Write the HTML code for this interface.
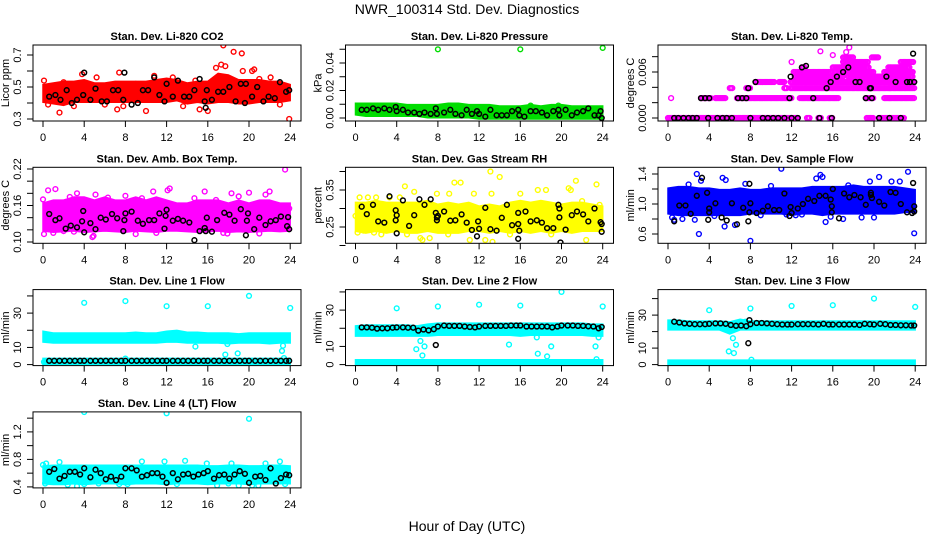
<!DOCTYPE html>
<html><head><meta charset="utf-8"><title>NWR_100314 Std. Dev. Diagnostics</title>
<style>
html,body{margin:0;padding:0;background:#fff;}
svg{display:block;font-family:"Liberation Sans",sans-serif;}
</style></head>
<body>
<svg id="chart" width="936" height="540" viewBox="0 0 936 540" xmlns="http://www.w3.org/2000/svg">
<rect width="936" height="540" fill="#fff"/>
<text x="467" y="14" font-size="14" text-anchor="middle">NWR_100314  Std. Dev. Diagnostics</text>
<text x="467" y="531" font-size="14" text-anchor="middle">Hour of Day (UTC)</text>
<g id="panels"></g>
</svg>
<script>
// ---------- shared ----------
const bandHours=[0,1,2,3,4,5,6,7,8,9,10,11,12,13,14,15,16,17,18,19,20,21,22,23,24];
const xTicks=[0,4,8,12,16,20,24];
const blkHoursRow3=[0.6,1.1,1.6,2.1,2.6,3.1,3.6,4.0,4.6,5.1,5.6,6.1,6.6,7.1,7.6,8.0,8.6,9.1,9.6,10.1,10.6,11.1,11.6,12.0,12.6,13.1,13.6,14.1,14.6,15.1,15.6,16.0,16.6,17.1,17.6,18.1,18.6,19.1,19.6,20.0,20.6,21.1,21.6,22.1,22.6,23.1,23.6,23.9];

// ---------- panel 1: CO2 ----------
const co2Lo=[0.42,0.41,0.40,0.42,0.42,0.42,0.42,0.42,0.42,0.42,0.42,0.42,0.42,0.43,0.41,0.42,0.41,0.42,0.42,0.41,0.41,0.42,0.42,0.42,0.43];
const co2Hi=[0.50,0.51,0.52,0.52,0.53,0.51,0.51,0.52,0.52,0.52,0.52,0.53,0.54,0.53,0.51,0.52,0.52,0.57,0.56,0.53,0.53,0.53,0.52,0.52,0.50];
const co2PtX=[0.1,1.6,3.8,5.2,7.2,7.4,7.8,10.0,10.8,15.2,16.0,16.8,17.3,17.5,17.7,18.5,19.3,19.4,20.3,20.5,22.1,23.9,12.6,9.0,14.8,3.0,0.5,2.0,6.0,13.6,21.0,23.0];
const co2PtY=[0.54,0.34,0.58,0.56,0.36,0.59,0.38,0.35,0.57,0.36,0.35,0.62,0.64,0.76,0.63,0.72,0.71,0.60,0.60,0.61,0.56,0.30,0.56,0.52,0.54,0.38,0.39,0.53,0.39,0.38,0.55,0.39];
const co2BlkX=[0.6,1.2,1.7,2.3,2.8,3.3,3.9,4.0,4.6,5.1,5.7,6.2,6.8,7.3,7.8,7.9,8.6,9.2,9.7,10.2,10.8,11.3,11.8,12.0,12.6,13.1,13.7,14.2,14.7,15.2,15.7,15.8,15.9,16.4,17.0,17.5,18.1,18.7,19.2,19.6,19.7,20.3,20.8,21.4,21.9,22.5,23.0,23.6,23.9];
const co2BlkY=[0.44,0.45,0.42,0.48,0.40,0.42,0.45,0.59,0.42,0.49,0.41,0.41,0.48,0.48,0.42,0.59,0.39,0.40,0.48,0.48,0.56,0.45,0.41,0.52,0.44,0.54,0.44,0.44,0.48,0.55,0.41,0.37,0.48,0.42,0.47,0.47,0.50,0.41,0.52,0.40,0.52,0.44,0.50,0.41,0.44,0.43,0.53,0.47,0.48];
const co2Ticks=[0.3,0.4,0.5,0.6,0.7];
const co2Labels=["0.3","","0.5","","0.7"];

// ---------- panel 2: pressure ----------
const prLo=[0.004,0.003,0.003,0.003,0.003,0.003,0.003,0.002,0.002,0.002,0.002,0.002,0.001,0.001,0.001,0.001,0.001,0.001,0.001,0.001,0.001,0.001,0.001,0.001,0.001];
const prHi=[0.009,0.009,0.009,0.009,0.009,0.008,0.008,0.008,0.008,0.009,0.009,0.008,0.008,0.008,0.007,0.007,0.007,0.008,0.007,0.008,0.008,0.007,0.007,0.007,0.007];
const prPtX=[8,16,24,17,19.7];
const prPtY=[0.050,0.050,0.051,0.009,0.009];
const prBlkX=[0.6,1.1,1.7,2.2,2.8,3.3,3.9,4.0,4.6,5.1,5.7,6.2,6.7,7.3,7.8,7.9,8.6,9.2,9.7,10.3,10.8,11.3,11.8,12.0,12.6,13.1,13.7,14.2,14.7,15.2,15.8,15.9,16.4,17.0,17.5,18.1,18.6,19.2,19.7,19.8,20.4,21.0,21.5,22.1,22.6,23.2,23.6,23.8,23.9];
const prBlkY=[0.006,0.006,0.007,0.006,0.007,0.006,0.008,0.005,0.006,0.004,0.004,0.003,0.004,0.003,0.007,0.003,0.004,0.006,0.003,0.002,0.006,0.003,0.005,0.003,0.001,0.006,0.002,0.002,0.002,0.005,0.006,0.002,0.001,0.005,0.005,0.004,0.002,0.005,0.006,0.002,0.006,0.002,0.004,0.005,0.007,0.002,0.002,0.005,0.000];
const prTicks=[0,0.01,0.02,0.03,0.04,0.05];
const prLabels=["0.00","","0.02","","0.04",""];

// ---------- panel 3: Li-820 temp (discrete levels as runs) ----------
const tmRunLevel=[0,0,0,0,0,0,0.0026,0.0026,0.0026,0.0026,0.0026,0.0026,0.0026,0.0039,0.0039,0.0039,0.0039,0.0047,0.0047,0.0047,0.0054,0.0054,0.006,0.006,0.006,0.0066,0.0066,0.0066,0.0073,0.0073,0.0073,0.0079,0.0079];
const tmRunStart=[0,13.5,14.6,15.7,19.3,20.5,0.3,3.2,4.6,6.7,12.8,19.2,21.0,6.0,7.6,11.3,11.9,8.5,10.8,11.9,12.3,17.5,12.2,16.2,21.0,13.0,16.0,21.4,12.0,17.0,22.6,17.0,19.8];
const tmRunEnd=[12.7,13.8,14.9,16.0,20.0,23.0,0.4,4.2,5.6,12.0,16.6,20.0,23.9,6.3,8.0,11.6,24.0,10.3,11.3,24.0,17.0,23.8,15.8,20.0,23.8,13.3,19.5,23.5,12.1,19.5,23.8,18.0,20.4];
const tmPtX=[14.8,17.3,17.6,16.0];
const tmPtY=[0.0087,0.0086,0.0092,0.0082];
const tmBlkX=[0.6,1.0,1.5,2.0,2.4,2.8,3.2,3.6,3.9,4.0,4.8,5.3,5.7,6.2,6.8,7.2,7.6,7.8,8.0,8.5,9.2,9.7,10.2,10.7,11.3,11.8,11.9,12.0,12.6,13.0,13.4,14.1,14.7,15.4,15.8,15.9,16.4,17.0,17.5,18.2,18.6,19.2,19.6,19.7,19.8,20.5,21.2,21.5,22.1,22.6,23.2,23.5,23.8,23.9];
const tmBlkY=[0,0,0,0,0,0,0.0026,0.0026,0,0.0026,0,0,0,0,0.0026,0.0026,0.0026,0.0039,0,0.0047,0,0,0,0,0,0.0026,0.0054,0,0,0.0066,0.0068,0.0026,0,0.0039,0.0047,0,0.0054,0.0060,0.0066,0.0047,0.0047,0.0026,0.0039,0.0039,0.0026,0,0.0054,0,0.0047,0,0.0047,0.0047,0.0084,0.0047];
const tmTicks=[0,0.002,0.004,0.006,0.008];
const tmLabels=["0.000","","","0.006",""];

// ---------- panel 4: amb box temp ----------
const abLo=[0.122,0.12,0.121,0.122,0.12,0.121,0.122,0.121,0.12,0.122,0.121,0.12,0.122,0.122,0.121,0.12,0.121,0.122,0.12,0.121,0.12,0.121,0.122,0.121,0.122];
const abHi=[0.16,0.165,0.165,0.17,0.17,0.165,0.17,0.165,0.165,0.17,0.165,0.17,0.165,0.16,0.16,0.165,0.165,0.165,0.16,0.165,0.16,0.165,0.165,0.16,0.16];
const abPtX=[0.1,0.5,1.2,2.0,3.3,4.8,4.9,5.1,7.5,8.0,9.6,10.7,11.0,12.3,12.1,15.7,16.8,17.9,18.3,19.0,20.0,21.6,22.0,23.5,23.9,0.0,14.7,2.6,6.3,13.2,1.0,3.0,9.0,17.5,21.0];
const abPtY=[0.113,0.185,0.187,0.118,0.18,0.108,0.11,0.178,0.125,0.176,0.172,0.183,0.115,0.188,0.185,0.183,0.169,0.114,0.18,0.175,0.181,0.178,0.183,0.219,0.155,0.17,0.172,0.174,0.173,0.16,0.115,0.117,0.113,0.115,0.114];
const abBlkX=[0.6,1.2,1.6,2.2,2.7,3.3,3.8,3.9,4.0,4.6,5.1,5.6,6.1,6.7,7.2,7.8,7.9,8.0,8.6,9.2,9.7,10.3,10.8,11.3,11.8,11.9,12.0,12.6,13.1,13.6,14.2,14.7,15.2,15.7,15.8,15.9,16.4,16.9,17.6,18.1,18.6,19.2,19.7,19.8,19.9,20.5,21.0,21.6,22.1,22.6,23.1,23.7,23.8,23.9];
const abBlkY=[0.146,0.136,0.139,0.122,0.127,0.124,0.134,0.151,0.116,0.131,0.121,0.140,0.137,0.146,0.139,0.118,0.136,0.147,0.150,0.135,0.130,0.136,0.136,0.147,0.122,0.143,0.153,0.135,0.138,0.135,0.132,0.103,0.118,0.123,0.118,0.140,0.117,0.136,0.148,0.145,0.135,0.154,0.111,0.135,0.147,0.121,0.140,0.128,0.134,0.136,0.142,0.126,0.141,0.121];
const abTicks=[0.10,0.12,0.14,0.16,0.18,0.20,0.22];
const abLabels=["0.10","","","0.16","","","0.22"];

// ---------- panel 5: gas stream RH ----------
const rhLo=[0.245,0.24,0.245,0.24,0.245,0.24,0.24,0.245,0.24,0.24,0.24,0.245,0.245,0.24,0.245,0.24,0.245,0.24,0.245,0.24,0.245,0.24,0.245,0.245,0.245];
const rhHi=[0.31,0.31,0.315,0.31,0.31,0.31,0.31,0.315,0.305,0.31,0.305,0.31,0.30,0.305,0.30,0.31,0.315,0.31,0.315,0.31,0.305,0.31,0.31,0.305,0.30];
const rhPtX=[0.4,0.0,0.2,0.8,1.8,2.5,3.3,4.8,5.7,6.3,6.5,7.2,7.9,9.1,9.6,10.2,11.1,12.6,13.1,13.3,14.0,13.2,17.7,18.5,20.7,20.9,21.4,22.4,23.4,23.7,4.3,16.0,2.0,5.0,9.0,11.5,15.0,19.0,22.0,1.2];
const rhPtY=[0.33,0.28,0.235,0.24,0.235,0.23,0.33,0.36,0.345,0.22,0.215,0.22,0.34,0.34,0.37,0.37,0.215,0.215,0.40,0.21,0.385,0.34,0.35,0.35,0.355,0.35,0.375,0.215,0.365,0.31,0.33,0.34,0.33,0.23,0.23,0.34,0.23,0.23,0.32,0.33];
const rhBlkX=[0.6,1.1,1.7,2.2,2.8,3.3,3.9,3.9,4.0,4.0,4.6,5.2,5.7,6.2,6.7,7.3,7.8,7.9,7.9,8.0,8.6,9.2,9.7,10.3,10.8,11.3,11.8,11.9,12.0,12.6,13.1,13.7,14.2,14.7,15.2,15.8,15.8,15.9,15.8,16.5,17.0,17.6,18.1,18.6,19.2,19.7,19.8,19.8,19.9,20.4,21.0,21.5,22.1,22.6,23.2,23.8,23.9,23.9];
const rhBlkY=[0.305,0.285,0.31,0.265,0.262,0.333,0.295,0.268,0.233,0.282,0.322,0.253,0.282,0.325,0.31,0.325,0.288,0.276,0.268,0.28,0.292,0.267,0.268,0.284,0.262,0.242,0.225,0.265,0.245,0.302,0.244,0.24,0.275,0.31,0.255,0.288,0.258,0.24,0.218,0.292,0.265,0.268,0.262,0.247,0.247,0.31,0.30,0.276,0.208,0.243,0.282,0.292,0.284,0.265,0.30,0.263,0.258,0.237];
const rhTicks=[0.20,0.25,0.30,0.35,0.40];
const rhLabels=["","0.25","","0.35",""];

// ---------- panel 6: sample flow ----------
const sfLo=[0.90,0.88,0.88,0.88,0.88,0.88,0.88,0.88,0.90,0.90,0.90,0.90,0.88,0.90,0.90,0.88,0.90,0.90,0.90,0.90,0.90,0.90,0.90,0.92,0.92];
const sfHi=[1.18,1.20,1.20,1.18,1.18,1.16,1.16,1.18,1.16,1.16,1.18,1.18,1.18,1.18,1.20,1.20,1.20,1.20,1.22,1.20,1.20,1.20,1.20,1.18,1.16];
const sfPtX=[0.4,0.6,1.4,2.6,2.8,3.0,3.2,5.3,5.5,5.6,6.5,7.5,8.0,9.0,11.0,12.4,14.4,14.8,15.0,15.3,15.8,17.0,18.8,20.5,21.7,22.5,23.3,23.9,17.5,19.6,11.5,2.0,4.5,10.0,13.0,20.0];
const sfPtY=[0.82,0.79,0.80,0.79,1.40,0.60,1.31,1.35,0.70,1.32,0.72,1.27,0.51,0.85,1.47,0.85,1.34,1.39,1.36,0.76,0.83,0.80,0.82,1.36,1.30,1.30,1.43,0.61,1.25,1.30,0.86,1.26,0.84,1.24,0.86,0.82];
const sfBlkX=[0.6,1.1,1.7,2.2,2.8,3.3,3.8,3.9,4.0,4.0,4.6,5.2,5.7,6.2,6.7,7.3,7.8,7.9,7.9,8.0,8.6,9.2,9.7,10.3,10.8,11.3,11.8,11.9,12.0,12.6,13.1,13.6,14.2,14.7,15.3,15.8,15.9,15.9,16.0,16.6,17.1,17.6,18.1,18.7,19.2,19.7,19.7,19.8,20.5,21.0,21.6,22.1,22.6,23.2,23.7,23.8,23.9,23.9];
const sfBlkY=[0.77,0.98,0.98,0.87,1.11,1.35,1.15,0.79,0.89,0.94,1.01,0.82,0.78,1.01,0.73,0.95,0.77,0.89,1.27,1.01,0.88,0.91,0.97,0.92,0.92,1.14,0.84,0.96,0.88,0.94,1.00,1.07,1.04,1.11,1.11,1.06,0.97,0.89,1.20,0.81,1.14,1.09,1.12,1.09,0.99,1.15,1.12,1.08,1.03,0.98,1.16,1.15,1.00,0.89,0.88,1.28,0.97,0.90];
const sfTicks=[0.6,0.8,1.0,1.2,1.4];
const sfLabels=["0.6","","1.0","","1.4"];

// ---------- panel 7: line 1 flow ----------
const l1Lo=[14.5,14,14,14,14,14,14,14,14,14,14,14,14.5,14.5,14,14,14,14,13.5,14,14,14,13.5,14,14];
const l1Hi=[18,17,17,17,17,17,17,17,17,17.5,17,17,18,18.5,17.5,17.5,17,17,17,16.5,17,17,17,17,17];
const l1LowLo=[1.5,1.5,1.5,1.5,1.5,1.5,1.5,1.5,1.5,1.5,1.5,1.5,1.5,1.5,1.5,1.5,1.5,1.5,1.5,1.5,1.5,1.5,1.5,1.5,1.5];
const l1LowHi=[2.2,2.2,2.2,2.2,2.2,2.2,2.2,2.2,2.2,2.2,2.2,2.2,2.2,2.2,2.2,2.2,2.2,2.2,2.2,2.2,2.2,2.2,2.2,2.2,2.2];
const l1PtX=[4,8,12,16,20,24,14.8,17.7,17.9,18.9,23.2,23.3,23.4,8,0.1];
const l1PtY=[36,37,34,34,40,33,10.5,5.8,12,6.5,8,11,3.8,3.5,1.5];
const l1BlkY=[2.2,2.2,2.2,2.2,2.2,2.2,2.2,2.2,2.2,2.2,2.2,2.2,2.2,2.2,2.2,2.2,2.2,2.2,2.2,2.2,2.2,2.2,2.2,2.2,2.2,2.2,2.2,2.2,2.2,2.2,2.2,2.2,2.2,2.2,2.2,2.2,2.2,2.2,2.2,2.2,2.2,2.2,2.2,2.2,2.2,2.2,2.2,2.2];
const l1Ticks=[0,10,20,30,40];
const l1Labels=["0","10","","30",""];

// ---------- panel 8: line 2 flow ----------
const l2Lo=[17,17,17,17,17,17,17,17,17.5,17.5,17.5,17.5,17.5,17.5,17.5,17.5,17,17.5,17.5,17.5,17.5,17.5,17.5,17,17];
const l2Hi=[20,20.5,20.5,20.5,20.5,20.5,20,21,21.5,21.5,21.5,21.5,21.5,21.5,21.5,21.5,21.5,21.5,21.5,21.5,21.5,21.5,21.5,21,21];
const l2LowLo=[0.8,0.8,0.8,0.8,0.8,0.8,0.8,0.8,0.8,0.8,0.8,0.8,0.8,0.8,0.8,0.8,0.8,0.8,0.8,0.8,0.8,0.8,0.8,0.8,0.8];
const l2LowHi=[1.3,1.3,1.3,1.3,1.3,1.3,1.3,1.3,1.3,1.3,1.3,1.3,1.3,1.3,1.3,1.3,1.3,1.3,1.3,1.3,1.3,1.3,1.3,1.3,1.3];
const l2PtX=[4,8,12,16,20,24,5.9,6.3,6.5,6.7,14.9,17.7,18.6,19.0,23.3,23.4,23.6,17.6];
const l2PtY=[31,32,33,32.5,40,32,8.5,13,5,10,11,6,4.5,10,10,3,15,15];
const l2BlkY=[20.5,20.5,20.3,19.8,20,20,20.3,20.5,20.5,20.3,20.3,18.7,19.3,18.8,19.5,21,21.5,21.3,21.3,21.3,21,20.7,20.5,21,21.3,21.3,21.3,21.3,21.3,21.5,21.5,21.5,21,21,21,21,21,20.5,21,21.5,21.5,21.5,21.3,21.3,21.1,21,20,20.7];
const l2BlkExtraX=[7.8];
const l2BlkExtraY=[10.8];
const l2Ticks=[0,10,20,30,40];
const l2Labels=["0","10","","30",""];

// ---------- panel 9: line 3 flow ----------
const l3Lo=[22.5,22.5,22.5,22.5,22.5,22.5,20,22.5,22.5,22.5,22.5,22.5,22.5,22.5,22.5,22.5,22.5,22.5,22.5,22.5,22.5,22.5,22.5,22.5,22.5];
const l3Hi=[25.5,25.5,25,25,25,25,24.5,26,25,25,25,25,25,25,25,25,25,25,25,25,25,25,25,25,25];
const l3LowLo=[0.8,0.8,0.8,0.8,0.8,0.8,0.8,0.8,0.8,0.8,0.8,0.8,0.8,0.8,0.8,0.8,0.8,0.8,0.8,0.8,0.8,0.8,0.8,0.8,0.8];
const l3LowHi=[1.3,1.3,1.3,1.3,1.3,1.3,1.3,1.3,1.3,1.3,1.3,1.3,1.3,1.3,1.3,1.3,1.3,1.3,1.3,1.3,1.3,1.3,1.3,1.3,1.3];
const l3PtX=[4,8,12,16,20,24,5.9,6.0,6.3,6.4,6.6,8.1,7.5];
const l3PtY=[33,34,35.5,36,40,35,8,21,16,7,12,3,26];
const l3BlkY=[26,25.5,25,24.7,24.5,24.5,24.5,24.7,25,25,24.7,24,23.5,23.7,23.3,24.5,25.2,25.2,25,24.7,24.5,24.3,24.3,24.3,24.5,24.5,24.5,24.5,24.3,24.7,24.3,24.3,24.3,24.3,24.3,24.3,24,24.7,24.5,24.3,24.7,24.5,24,24,23.8,23.8,23.7,23.7];
const l3BlkExtraX=[7.8,7.9];
const l3BlkExtraY=[13,27];
const l3Ticks=[0,10,20,30,40];
const l3Labels=["0","10","","30",""];

// ---------- panel 10: line 4 flow ----------
const l4Lo=[0.48,0.47,0.47,0.48,0.47,0.48,0.48,0.48,0.47,0.48,0.48,0.48,0.47,0.48,0.48,0.48,0.47,0.48,0.48,0.48,0.47,0.48,0.48,0.48,0.48];
const l4Hi=[0.67,0.68,0.68,0.68,0.68,0.68,0.68,0.68,0.68,0.68,0.68,0.68,0.68,0.68,0.68,0.68,0.67,0.67,0.68,0.68,0.67,0.67,0.68,0.68,0.67];
const l4PtX=[4,12,20,0.0,0.2,0.3,1.6,2.4,3.3,4.0,5.4,7.4,8.2,9.6,11.8,13.0,13.8,16.9,18.0,18.3,19.0,20.3,20.9,21.6,23.0,23.5,15.9];
const l4PtY=[1.49,1.47,1.39,0.72,0.45,0.74,0.76,0.43,0.41,0.44,0.45,0.44,0.44,0.77,0.77,0.44,0.78,0.42,0.45,0.74,0.42,0.42,0.42,0.74,0.77,0.44,0.74];
const l4BlkY=[0.62,0.66,0.52,0.56,0.62,0.62,0.58,0.67,0.54,0.65,0.6,0.51,0.55,0.5,0.55,0.67,0.67,0.64,0.55,0.57,0.6,0.6,0.55,0.46,0.6,0.51,0.58,0.59,0.55,0.58,0.6,0.63,0.52,0.57,0.58,0.52,0.58,0.63,0.59,0.46,0.55,0.56,0.5,0.67,0.45,0.53,0.58,0.57];
const l4Ticks=[0.4,0.6,0.8,1.0,1.2,1.4];
const l4Labels=["0.4","","0.8","","1.2",""];

// ---------- layout (not data) ----------
const NS="http://www.w3.org/2000/svg";
const root=document.getElementById('panels');
function mk(tag,attrs,parent){const e=document.createElementNS(NS,tag);for(const k in attrs)e.setAttribute(k,attrs[k]);(parent||root).appendChild(e);return e;}

const panels=[
 {id:'co2',title:'Stan. Dev. Li-820 CO2',ylab:'Licor ppm',col:0,row:0,color:'#ff0000',cal:[0.3,74,0.7,10],ticks:co2Ticks,labels:co2Labels,bands:[[co2Lo,co2Hi]],ptX:co2PtX,ptY:co2PtY,bx:co2BlkX,by:co2BlkY},
 {id:'pressure',title:'Stan. Dev. Li-820 Pressure',ylab:'kPa',col:1,row:0,color:'#00dd00',cal:[0,73,0.04,18],ticks:prTicks,labels:prLabels,bands:[[prLo,prHi]],ptX:prPtX,ptY:prPtY,bx:prBlkX,by:prBlkY},
 {id:'li820-temp',title:'Stan. Dev. Li-820 Temp.',ylab:'degrees C',col:2,row:0,color:'#ff00ff',cal:[0,73,0.006,27],ticks:tmTicks,labels:tmLabels,bands:[],runs:[tmRunLevel,tmRunStart,tmRunEnd],ptX:tmPtX,ptY:tmPtY,bx:tmBlkX,by:tmBlkY},
 {id:'amb-box-temp',title:'Stan. Dev. Amb. Box Temp.',ylab:'degrees C',col:0,row:1,color:'#ff00ff',cal:[0.10,74.7,0.22,1.7],ticks:abTicks,labels:abLabels,bands:[[abLo,abHi]],ptX:abPtX,ptY:abPtY,bx:abBlkX,by:abBlkY},
 {id:'gas-rh',title:'Stan. Dev. Gas Stream RH',ylab:'percent',col:1,row:1,color:'#ffff00',cal:[0.25,59.7,0.35,22.7],ticks:rhTicks,labels:rhLabels,bands:[[rhLo,rhHi]],ptX:rhPtX,ptY:rhPtY,bx:rhBlkX,by:rhBlkY},
 {id:'sample-flow',title:'Stan. Dev. Sample Flow',ylab:'ml/min',col:2,row:1,color:'#0000ff',cal:[0.6,66.7,1.4,6.7],ticks:sfTicks,labels:sfLabels,bands:[[sfLo,sfHi]],ptX:sfPtX,ptY:sfPtY,bx:sfBlkX,by:sfBlkY},
 {id:'line1-flow',title:'Stan. Dev. Line 1 Flow',ylab:'ml/min',col:0,row:2,color:'#00ffff',cal:[0,75,30,23.5],ticks:l1Ticks,labels:l1Labels,bands:[[l1Lo,l1Hi],[l1LowLo,l1LowHi]],ptX:l1PtX,ptY:l1PtY,bx:blkHoursRow3,by:l1BlkY},
 {id:'line2-flow',title:'Stan. Dev. Line 2 Flow',ylab:'ml/min',col:1,row:2,color:'#00ffff',cal:[0,75,30,20.5],ticks:l2Ticks,labels:l2Labels,bands:[[l2Lo,l2Hi],[l2LowLo,l2LowHi]],ptX:l2PtX,ptY:l2PtY,bx:blkHoursRow3,by:l2BlkY,ex:l2BlkExtraX,ey:l2BlkExtraY},
 {id:'line3-flow',title:'Stan. Dev. Line 3 Flow',ylab:'ml/min',col:2,row:2,color:'#00ffff',cal:[0,75,30,25.5],ticks:l3Ticks,labels:l3Labels,bands:[[l3Lo,l3Hi],[l3LowLo,l3LowHi]],ptX:l3PtX,ptY:l3PtY,bx:blkHoursRow3,by:l3BlkY,ex:l3BlkExtraX,ey:l3BlkExtraY},
 {id:'line4-flow',title:'Stan. Dev. Line 4 (LT) Flow',ylab:'ml/min',col:0,row:3,color:'#00ffff',cal:[0.4,75,1.2,20],ticks:l4Ticks,labels:l4Labels,bands:[[l4Lo,l4Hi]],ptX:l4PtX,ptY:l4PtY,bx:blkHoursRow3,by:l4BlkY}
];

const R=2.4;
panels.forEach(p=>{
  const L=33+312.5*p.col, T=45+122.3*p.row, W=268, H=76, B=T+H;
  const g=mk('g',{});
  
  
  const xs=h=>L+10+h*10.3;
  const [v1,r1,v2,r2]=p.cal;
  const ys=v=>T+r1+(v-v1)*(r2-r1)/(v2-v1);
  const clipId='clip-'+p.id;
  const cp=mk('clipPath',{id:clipId},g); mk('rect',{x:L,y:T,width:W,height:H},cp);
  const data=mk('g',{'clip-path':'url(#'+clipId+')'},g);
  
  
  p.bands.forEach(([lo,hi])=>{
    let d='';
    bandHours.forEach((h,i)=>{d+=(i?'L':'M')+xs(h).toFixed(1)+','+(ys(hi[i])-R).toFixed(1);});
    for(let i=bandHours.length-1;i>=0;i--){d+='L'+xs(bandHours[i]).toFixed(1)+','+(ys(lo[i])+R).toFixed(1);}
    const band=mk('path',{d:d+'Z',style:'fill:'+p.color+';stroke:'+p.color+';stroke-width:1.5'},data);
    
    
  });
  if(p.runs){
    const [lv,st,en]=p.runs;
    lv.forEach((v,i)=>{
      for(let h=st[i];h<=en[i]+1e-6;h+=0.12){
        const c=mk('circle',{cx:xs(h).toFixed(1),cy:ys(v).toFixed(1),r:R,style:'fill:none;stroke:'+p.color+';stroke-width:1.4'},data);
        
        
      }
    });
  }
  p.ptX.forEach((h,i)=>{
    const c=mk('circle',{cx:xs(h).toFixed(1),cy:ys(p.ptY[i]).toFixed(1),r:R,style:'fill:none;stroke:'+p.color+';stroke-width:1.4'},data);
    
    
  });
  const bxs=p.bx.concat(p.ex||[]), bys=p.by.concat(p.ey||[]);
  bxs.forEach((h,i)=>{
    const c=mk('circle',{cx:xs(h).toFixed(1),cy:ys(bys[i]).toFixed(1),r:R,style:'fill:none;stroke:#000;stroke-width:1.5'},data);
    
    
  });
  const box=mk('rect',{x:L,y:T,width:W,height:H,style:'fill:none;stroke:#000;stroke-width:1'},g);
  
  
  xTicks.forEach(t=>{
    const x=xs(t);
    mk('line',{x1:x,y1:B,x2:x,y2:B+6,stroke:'#000'},g);
    const tl=mk('text',{x:x,y:B+20,'font-size':'11','text-anchor':'middle'},g);
    tl.textContent=t;
    
    
  });
  p.ticks.forEach((t,i)=>{
    const y=ys(t);
    mk('line',{x1:L-6,y1:y,x2:L,y2:y,stroke:'#000'},g);
    if(p.labels[i]){
      const tl=mk('text',{x:L-12,y:y,'font-size':'11','text-anchor':'middle',transform:'rotate(-90 '+(L-12)+' '+y+')'},g);
      tl.textContent=p.labels[i];
      
      
    }
  });
  const yl=mk('text',{x:L-24,y:T+H/2,'font-size':'11','text-anchor':'middle',transform:'rotate(-90 '+(L-24)+' '+(T+H/2)+')'},g);
  yl.textContent=p.ylab;
  
  
  const ti=mk('text',{x:L+W/2,y:T-5,'font-size':'11','font-weight':'bold','text-anchor':'middle'},g);
  ti.textContent=p.title;
  
  
});
</script>
</body></html>
